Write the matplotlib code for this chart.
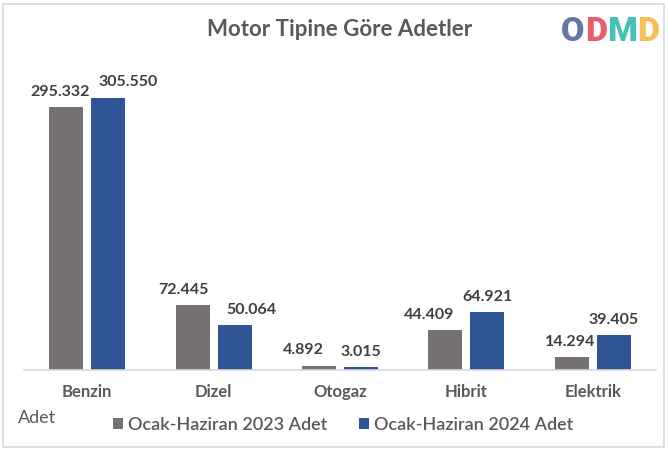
import matplotlib
matplotlib.use("Agg")
import matplotlib.pyplot as plt
from matplotlib.patches import Rectangle
import numpy as np

categories = ["Benzin", "Dizel", "Otogaz", "Hibrit", "Elektrik"]
series_names = ["Ocak-Haziran 2023 Adet", "Ocak-Haziran 2024 Adet"]
values_2023 = [295332, 72445, 4892, 44409, 14294]
values_2024 = [305550, 50064, 3015, 64921, 39405]
labels_2023 = ["295.332", "72.445", "4.892", "44.409", "14.294"]
labels_2024 = ["305.550", "50.064", "3.015", "64.921", "39.405"]
title = "Motor Tipine Göre Adetler"
y_title = "Adet"
logo_letters = ["O", "D", "M", "D"]

# label horizontal offsets (pixels), styling only
off_2023 = [-6, -9, -16, -16, -2]
off_2024 = [20, 17, 0, 0, 0]

c23 = "#767171"
c24 = "#2F5597"
txt = "#595959"
font = "Lato"
logo_colors = ["#52679a", "#e64c59", "#2fbcb0", "#f5b942"]

W, H = 668, 451
fig = plt.figure(figsize=(W / 100, H / 100), dpi=100)
fig.patch.set_facecolor("white")

# outer border
fig.patches.append(Rectangle((3 / W, 4 / H), 661 / W, 443 / H, transform=fig.transFigure,
                             fill=False, edgecolor="#d9d9d9", linewidth=1.2))

ax_l, ax_r, ax_b, ax_t = 24, 656, 370, 60
ax = fig.add_axes([ax_l / W, 1 - ax_b / H, (ax_r - ax_l) / W, (ax_b - ax_t) / H])
x = np.arange(len(categories))
bw = 0.269
d = 0.166
b1 = ax.bar(x - d, values_2023, bw, color=c23, label=series_names[0])
b2 = ax.bar(x + d, values_2024, bw, color=c24, label=series_names[1])
ax.set_xlim(-0.5, len(categories) - 0.5)
ax.set_ylim(0, 348000)

for bars, labs, offs in ((b1, labels_2023, off_2023), (b2, labels_2024, off_2024)):
    for rect, lab, off in zip(bars, labs, offs):
        ax.annotate(lab, (rect.get_x() + rect.get_width() / 2, rect.get_height()),
                    xytext=(off * 0.72, 6), textcoords="offset points", ha="center", va="bottom",
                    fontsize=11.5, fontweight="bold", color="#404040", family=font)

for s in ["top", "right", "left"]:
    ax.spines[s].set_visible(False)
ax.spines["bottom"].set_color("#d9d9d9")
ax.spines["bottom"].set_linewidth(1.2)
ax.set_yticks([])
ax.set_xticks(x)
ax.set_xticklabels(categories, fontsize=12, fontweight="bold", color=txt, family=font)
ax.tick_params(axis="x", length=0, pad=10)

fig.text(340 / W, 1 - 29 / H, title, ha="center", va="center", fontsize=16,
         fontweight="bold", color=txt, family=font)
fig.text(18 / W, 1 - 418 / H, y_title, ha="left", va="center", fontsize=13,
         color=txt, family=font)

leg = fig.legend(handles=[b1, b2], loc="center", bbox_to_anchor=(343 / W, 1 - 425 / H),
                 ncol=2, frameon=False, handlelength=0.55, handleheight=0.55,
                 handletextpad=0.25, columnspacing=1.8, borderpad=0, borderaxespad=0,
                 prop={"family": font, "size": 13, "weight": "semibold"})
for t in leg.get_texts():
    t.set_color(txt)

# logo: letters placed side by side
fig.canvas.draw()
renderer = fig.canvas.get_renderer()
xpos = 561
for ch, col in zip(logo_letters, logo_colors):
    t = fig.text(xpos / W, 1 - 32 / H, ch, ha="left", va="center", fontsize=24.5,
                 fontweight="heavy", color=col, alpha=0.9, family="Roboto")
    bb = t.get_window_extent(renderer)
    xpos += bb.width + 0.3

fig.savefig("out.png", dpi=100, facecolor="white")
